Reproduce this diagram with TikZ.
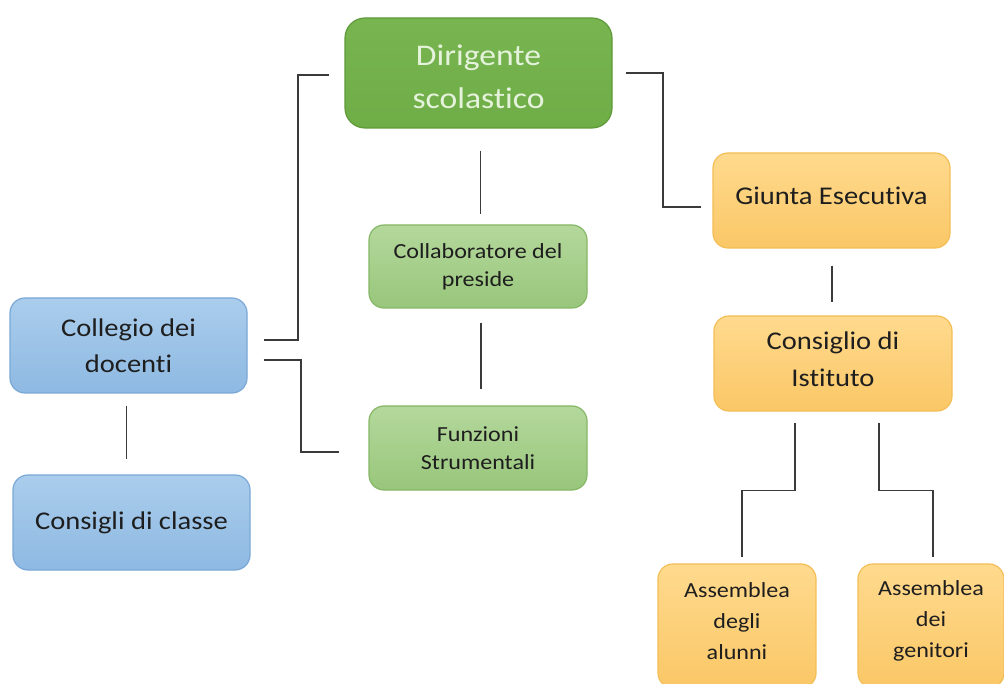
\documentclass[tikz,border=0pt]{standalone}
\usepackage{fontspec}
\setmainfont{Carlito}[FakeStretch=1.12, Ligatures=NoCommon]
\newcommand{\shiftline}[2]{\raisebox{#1}[\height][\depth]{#2}}
\definecolor{txtdark}{HTML}{1E1E1E}
\definecolor{dirfill}{HTML}{6FAD47}
\definecolor{dirtop}{HTML}{78B551}
\definecolor{dirdraw}{HTML}{5E9A3A}
\definecolor{dirtext}{HTML}{E6F3DC}
\definecolor{gtop}{HTML}{B4D89C}
\definecolor{gbot}{HTML}{98C67B}
\definecolor{gdraw}{HTML}{86B766}
\definecolor{btop}{HTML}{AACDEC}
\definecolor{bbot}{HTML}{8EB9E2}
\definecolor{bdraw}{HTML}{7AA8D6}
\definecolor{otop}{HTML}{FFDA8E}
\definecolor{obot}{HTML}{FAC766}
\definecolor{odraw}{HTML}{F2BE55}
\definecolor{linecol}{HTML}{3A3A3A}
\tikzset{
  box/.style={rectangle, rounded corners=15pt, line width=1.2pt, align=center,
    inner sep=0pt, text=txtdark},
  dirbox/.style={box, rounded corners=20pt, draw=dirdraw, top color=dirtop, bottom color=dirfill,
    text=dirtext, font=\fontsize{30}{43}\selectfont},
  gbox/.style={box, draw=gdraw, top color=gtop, bottom color=gbot,
    font=\fontsize{21.5}{28}\selectfont},
  bbox/.style={box, draw=bdraw, top color=btop, bottom color=bbot,
    font=\fontsize{25.5}{36}\selectfont},
  obox/.style={box, draw=odraw, top color=otop, bottom color=obot,
    font=\fontsize{25.5}{37}\selectfont},
  abox/.style={box, draw=odraw, top color=otop, bottom color=obot,
    font=\fontsize{21.5}{31}\selectfont},
  conn/.style={draw=linecol, line width=1.6pt}
}
\begin{document}
\begin{tikzpicture}[x=1pt,y=-1pt]
\useasboundingbox (0,0) rectangle (1004,684);
\clip (0,0) rectangle (1004,684);
\fill[white] (0,0) rectangle (1004,684);

\node[dirbox, minimum width=267pt, minimum height=110pt] (dir) at (478.5,73) {\shiftline{-4pt}{Dirigente}\\\shiftline{-4pt}{scolastico}};
\node[gbox, minimum width=218pt, minimum height=83pt] (collab) at (478,266.5) {Collaboratore del\\preside};
\node[gbox, minimum width=218pt, minimum height=84pt] (funz) at (478,448) {Funzioni\\Strumentali};
\node[obox, minimum width=237pt, minimum height=95pt] (giunta) at (831.5,200.5) {\shiftline{5pt}{Giunta Esecutiva}};
\node[obox, minimum width=238pt, minimum height=95pt] (cons) at (833,363.5) {\shiftline{4pt}{Consiglio di}\\\shiftline{4pt}{Istituto}};
\node[bbox, minimum width=237pt, minimum height=95pt] (coll) at (128.5,345.5) {Collegio dei\\docenti};
\node[bbox, minimum width=237pt, minimum height=95pt] (classe) at (131.5,522.5) {Consigli di classe};
\node[abox, minimum width=158pt, minimum height=124pt] (alunni) at (737,626) {\shiftline{5pt}{Assemblea}\\\shiftline{5pt}{degli}\\\shiftline{5pt}{alunni}};
\node[abox, minimum width=146pt, minimum height=124pt] (genit) at (931,626) {\shiftline{5pt}{Assemblea}\\\shiftline{5pt}{dei}\\\shiftline{5pt}{genitori}};

\coordinate (k1) at (298,340);
\coordinate (k2) at (301,452);
\coordinate (k3) at (663,207);

\draw[conn] ([xshift=-15pt,yshift=-2pt]dir.west) -| (k1) -- ([xshift=16pt,yshift=5.5pt]coll.east);
\draw[conn] ([xshift=16pt,yshift=-14.5pt]coll.east) -| (k2) -- ([xshift=-29pt,yshift=-4pt]funz.west);
\draw[conn] ([xshift=2pt,yshift=-22pt]dir.south) coordinate (t1) -- ([yshift=10pt]collab.north -| t1);
\draw[conn] ([xshift=3pt,yshift=-14pt]collab.south) coordinate (t2) -- ([yshift=16pt]funz.north -| t2);
\draw[conn] ([xshift=13pt,yshift=0pt]dir.east) -| (k3) -- ([xshift=-11pt,yshift=-6.5pt]giunta.west);
\draw[conn] ([xshift=0.5pt,yshift=-17pt]giunta.south) coordinate (t3) -- ([yshift=13pt]cons.north -| t3);
\draw[conn] ([xshift=-2pt,yshift=-12pt]coll.south) coordinate (t4) -- ([yshift=15pt]classe.north -| t4);
\draw[conn] ([xshift=-38pt,yshift=-11pt]cons.south) -- ++(0,68) -| ([xshift=5pt,yshift=6pt]alunni.north);
\draw[conn] ([xshift=46pt,yshift=-11pt]cons.south) -- ++(0,68) -| ([xshift=2pt,yshift=6pt]genit.north);
\end{tikzpicture}
\end{document}
